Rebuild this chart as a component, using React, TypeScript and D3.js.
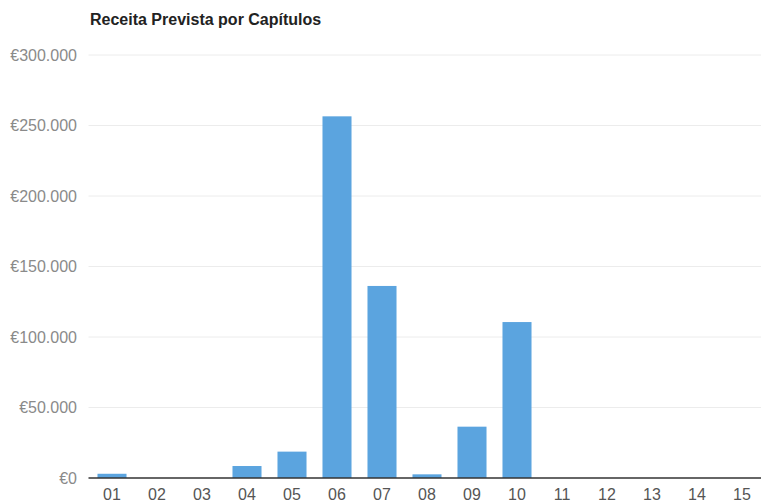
import * as d3 from "d3";
import { useEffect, useRef } from "react";

const chartTitle = "Receita Prevista por Capítulos";
const capitulos = ["01", "02", "03", "04", "05", "06", "07", "08", "09", "10", "11", "12", "13", "14", "15"];
const receita = [3000, 0, 0, 8500, 18700, 256500, 136200, 2600, 36400, 110600, 0, 0, 0, 0, 0];
const yTicks = [0, 50000, 100000, 150000, 200000, 250000, 300000];

const App = () => {
  const svgRef = useRef<SVGSVGElement>(null);

  useEffect(() => {
    const width = 761;
    const height = 503;
    const margin = { top: 55, right: 0, bottom: 25, left: 89.5 };
    const step = 45;

    const svg = d3.select(svgRef.current);
    svg.selectAll("*").remove();

    const x = d3
      .scaleBand<string>()
      .domain(capitulos)
      .range([margin.left, margin.left + step * capitulos.length])
      .paddingInner(0.355)
      .paddingOuter(0.1775);

    const y = d3
      .scaleLinear()
      .domain([0, 300000])
      .range([height - margin.bottom, margin.top]);

    const locale = d3.formatLocale({
      decimal: ",",
      thousands: ".",
      grouping: [3],
      currency: ["€", ""],
    });
    const fmt = locale.format("$,.0f");

    // title
    svg
      .append("text")
      .attr("x", 90)
      .attr("y", 25)
      .attr("font-family", "Liberation Sans, Arial, sans-serif")
      .attr("font-size", 16)
      .attr("font-weight", "bold")
      .attr("fill", "#222")
      .text(chartTitle);

    // gridlines
    svg
      .append("g")
      .selectAll("line")
      .data(yTicks.filter((d) => d > 0))
      .join("line")
      .attr("x1", margin.left - 1)
      .attr("x2", width)
      .attr("y1", (d) => y(d))
      .attr("y2", (d) => y(d))
      .attr("stroke", "#ececec")
      .attr("stroke-width", 1);

    // y labels
    svg
      .append("g")
      .selectAll("text")
      .data(yTicks)
      .join("text")
      .attr("x", 77)
      .attr("y", (d) => y(d))
      .attr("dy", "0.35em")
      .attr("text-anchor", "end")
      .attr("font-family", "Liberation Sans, Arial, sans-serif")
      .attr("font-size", 16)
      .attr("fill", "#8a8a8a")
      .text((d) => fmt(d));

    // bars
    svg
      .append("g")
      .selectAll("rect")
      .data(capitulos.map((c, i) => ({ c, v: receita[i] })).filter((d) => d.v > 0))
      .join("rect")
      .attr("x", (d) => x(d.c)!)
      .attr("y", (d) => y(d.v))
      .attr("width", x.bandwidth())
      .attr("height", (d) => y(0) - y(d.v))
      .attr("fill", "#5ba4df");

    // baseline
    svg
      .append("line")
      .attr("x1", margin.left - 1)
      .attr("x2", width)
      .attr("y1", y(0))
      .attr("y2", y(0))
      .attr("stroke", "#333")
      .attr("stroke-width", 1.5);

    // x labels
    svg
      .append("g")
      .selectAll("text")
      .data(capitulos)
      .join("text")
      .attr("x", (d) => x(d)! + x.bandwidth() / 2)
      .attr("y", 500)
      .attr("text-anchor", "middle")
      .attr("font-family", "Liberation Sans, Arial, sans-serif")
      .attr("font-size", 16)
      .attr("fill", "#555")
      .text((d) => d);
  }, []);

  return (
    <svg
      ref={svgRef}
      width={761}
      height={503}
      style={{ position: "absolute", left: 0, top: 0, background: "#fff" }}
    />
  );
};

export default App;
